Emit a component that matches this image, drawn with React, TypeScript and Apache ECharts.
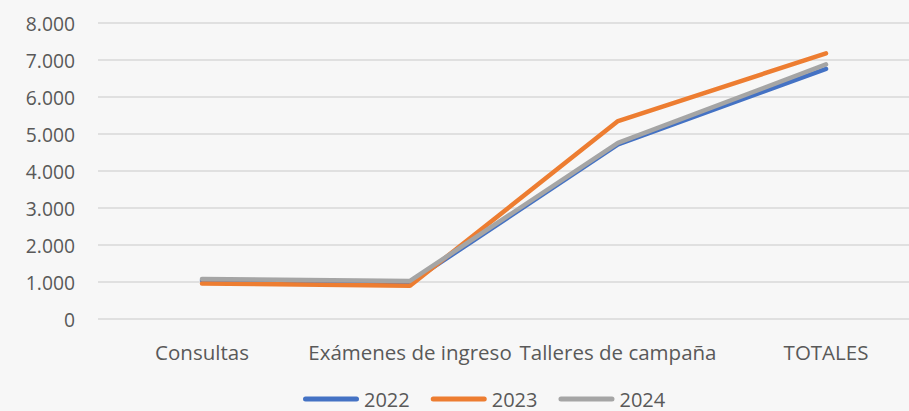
import React, { useEffect, useRef } from "react";
import * as echarts from "echarts";

const categories = ["Consultas", "Exámenes de ingreso", "Talleres de campaña", "TOTALES"];
const seriesNames = ["2022", "2023", "2024"];
const values2022 = [1050, 980, 4720, 6760];
const values2023 = [960, 900, 5350, 7180];
const values2024 = [1080, 1030, 4760, 6880];
const colors = ["#4472C4", "#ED7D31", "#A5A5A5"];

const fmt = (v: number) => String(v).replace(/\B(?=(\d{3})+(?!\d))/g, ".");

export default function App() {
  const ref = useRef<HTMLDivElement>(null);
  useEffect(() => {
    if (!ref.current) return;
    const chart = echarts.init(ref.current, undefined, { renderer: "svg" });
    const data = [values2022, values2023, values2024];
    const font = "'Open Sans', sans-serif";
    chart.setOption({
      animation: false,
      backgroundColor: "#f7f7f7",
      textStyle: { fontFamily: font },
      grid: { left: 98, top: 23, width: 832, height: 296 },
      xAxis: {
        type: "category",
        data: categories,
        boundaryGap: true,
        axisLine: { show: false },
        axisTick: { show: false },
        axisLabel: { color: "#595959", fontSize: 20.5, fontFamily: font, margin: 22, interval: 0 },
      },
      yAxis: {
        type: "value",
        min: 0,
        max: 8000,
        interval: 1000,
        axisLine: { show: false },
        axisTick: { show: false },
        axisLabel: { color: "#595959", fontSize: 19.3, fontFamily: font, margin: 23, formatter: fmt },
        splitLine: { lineStyle: { color: "#d9d9d9", width: 1.5 } },
      },
      legend: {
        top: 389,
        left: 303,
        padding: 0,
        itemWidth: 56,
        itemHeight: 5,
        itemGap: 21,
        icon: "path://M2.5,0 L53.5,0 A2.5,2.5 0 0 1 53.5,5 L2.5,5 A2.5,2.5 0 0 1 2.5,0 Z",
        textStyle: { color: "#595959", fontSize: 20, fontFamily: font, lineHeight: 20 },
        data: seriesNames,
      },
      series: seriesNames.map((name, i) => ({
        name,
        type: "line",
        data: data[i],
        showSymbol: false,
        symbol: "none",
        color: colors[i],
        lineStyle: { color: colors[i], width: 4.5, cap: "round", join: "round" },
        z: 2 + i,
      })),
    });
    return () => chart.dispose();
  }, []);
  return (
    <div style={{ position: "fixed", left: 0, top: 0, width: 909, height: 411, overflow: "hidden", background: "#f7f7f7" }}>
      <div ref={ref} style={{ width: 935, height: 411 }} />
    </div>
  );
}
